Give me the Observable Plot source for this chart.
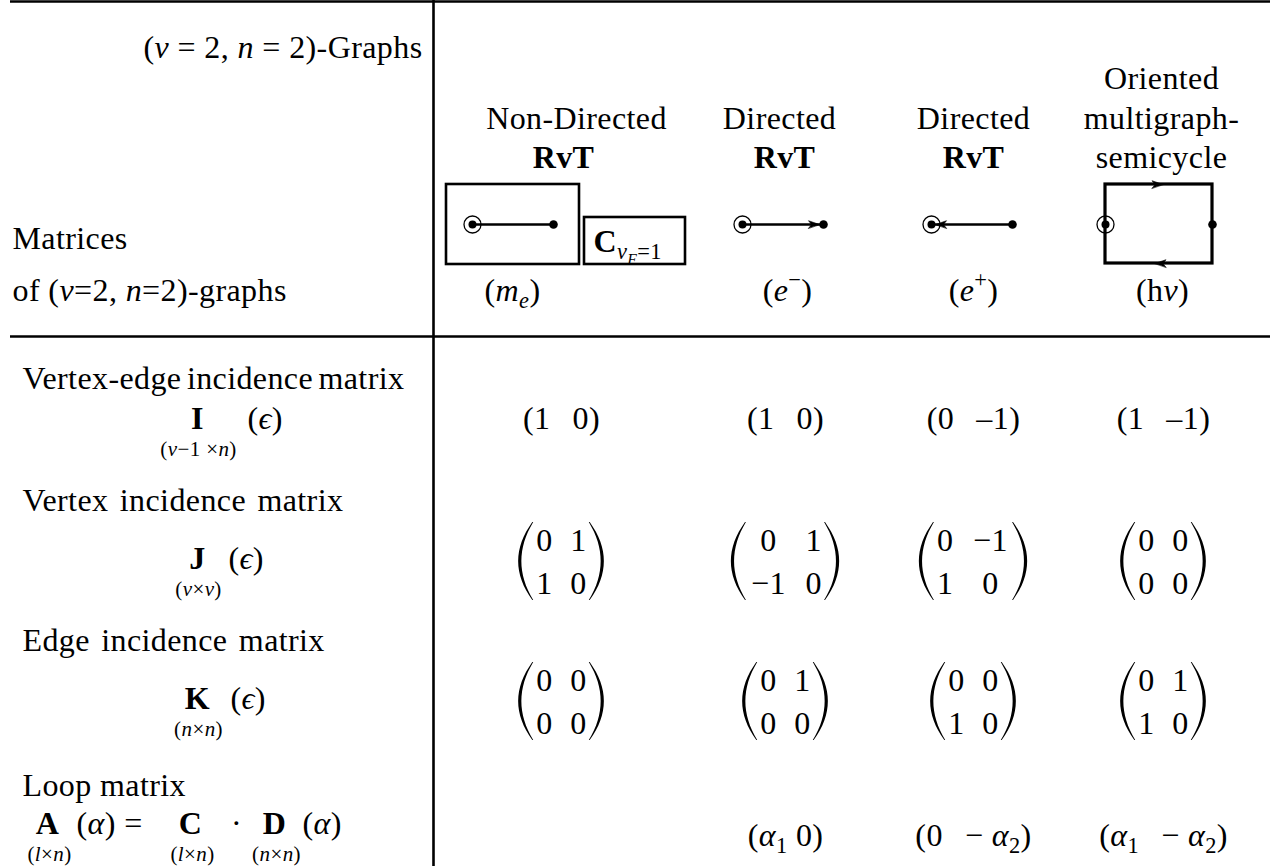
<!DOCTYPE html>
<html><head><meta charset="utf-8">
<script src="https://cdn.jsdelivr.net/npm/d3@7"></script>
<script src="https://cdn.jsdelivr.net/npm/@observablehq/plot@0.6"></script>
<style>html,body{margin:0;padding:0;background:#fff} svg text{font-family:"Liberation Serif","Times New Roman",serif !important; letter-spacing:0.4px}</style>
</head><body><div id="chart"></div>
<script>
// ---------------- content (data) ----------------
const graphsTitle = "({i:v} = 2, {i:n} = 2)-Graphs";
const matricesTitle = ["Matrices", "of ({i:v}=2, {i:n}=2)-graphs"];
const columnHeads = [
  ["Non-Directed", "{b:RvT}"],
  ["Directed", "{b:RvT}"],
  ["Directed", "{b:RvT}"],
  ["Oriented", "multigraph-", "semicycle"]
];
const graphKinds = ["undirected", "outgoing", "incoming", "semicycle"];
const cycleLabel = "{b:C}{_:{i:v}{_:{i:F}}=1}";
const particles = ["({i:m}{_:{i:e}})", "({i:e}{^:−})", "({i:e}{^:+})", "(h{i:ν})"];
const rowTitles = ["Vertex-edge incidence matrix", "Vertex incidence matrix", "Edge incidence matrix", "Loop matrix"];
const matrixSymbols = ["I", "J", "K"];
const matrixDims = ["({i:v}−1 ×{i:n})", "({i:v}×{i:v})", "({i:n}×{i:n})"];
const matrixArg = "({i:ϵ})";
const loopSymbols = ["A", "C", "D"];
const loopDims = ["({i:l}×{i:n})", "({i:l}×{i:n})", "({i:n}×{i:n})"];
const loopPieces = ["({i:α}) =", "·", "({i:α})"];
const incidenceI = [[1, 0], [1, 0], [0, -1], [1, -1]];
const vertexJ = [[[0, 1], [1, 0]], [[0, 1], [-1, 0]], [[0, -1], [1, 0]], [[0, 0], [0, 0]]];
const edgeK = [[[0, 0], [0, 0]], [[0, 1], [0, 0]], [[0, 0], [1, 0]], [[0, 1], [1, 0]]];
const loopA = [null, ["α1", "0"], ["0", "-α2"], ["α1", "-α2"]];

// ---------------- layout ----------------
const W = 1270, H = 866, FS = 32, FS_SUB = 21;
const FONT = "'Liberation Serif', 'Times New Roman', serif";
const LEFT = 10, VLINE = 433, HLINE = 336;
const colX = [561, 785, 973, 1163];
const headX = [576, 779, 973, 1161];
const lastLineShift = [-13, 5, 0, 0];
const HEAD_BASE = [88, 128, 167];
const graphX = [512.5, 782.5, 971.5, 1158.5];
const graphHalf = [40.5, 40.5, 40.5, 53.5];
const GRAPH_Y = 224;
const particleX = [512, 787, 973, 1162];
const PARTICLE_BASE = 300;
const titleBase = [388, 510, 650, 795];
const titleWordSpacing = [-3, 3, 3, 0];
const SYM_X = 197;
const symBase = [428, 568, 708];
const SUB_DROP = 27;
const argX = [247, 228, 230];
const I_BASE = 428;
const J_ROWS = [550, 593], K_ROWS = [690, 733];
const LOOP_BASE = 833, LOOP_SUB = 860, LOOP_VAL_BASE = 845;
const loopSymX = [47, 190, 274];
const loopPieceX = [76, 236, 302];
const loopPieceAnchor = ["start", "middle", "start"];

// ---------------- helpers ----------------
const fmtM = v => v < 0 ? "−" + (-v) : String(v);
const fmtI = v => v < 0 ? "–" + (-v) : String(v);
const fmtLoop = s => s.replace(/^-/, "− ").replace(/α(\d)/, "{i:α}{_:$1}");
const cellW = s => [...s].reduce((a, ch) => a + (ch === "−" ? 22.6 : 14.5), 0);
const GAP = 19.5;

const texts = [];
const T = (x, y, t, size = FS, anchor = "middle", weight = "normal") => texts.push({x, y, t, size, anchor, weight});

T(422, 57, graphsTitle, FS, "end");
T(12, 248, matricesTitle[0], FS, "start");
T(12, 300, matricesTitle[1], FS, "start");
columnHeads.forEach((lines, c) => lines.forEach((t, k) => {
  const last = k === lines.length - 1;
  T(headX[c] + (last ? lastLineShift[c] : 0), HEAD_BASE[HEAD_BASE.length - lines.length + k], t);
}));
T(593, 251, cycleLabel, FS, "start");
particles.forEach((t, c) => T(particleX[c], PARTICLE_BASE, t));
rowTitles.forEach((t, r) => T(22, titleBase[r], t, FS, "start"));
matrixSymbols.forEach((s, r) => {
  T(SYM_X, symBase[r], s, FS, "middle", "bold");
  T(SYM_X + 1, symBase[r] + SUB_DROP, matrixDims[r], FS_SUB);
  T(argX[r], symBase[r], matrixArg, FS, "start");
});
loopSymbols.forEach((s, k) => {
  T(loopSymX[k], LOOP_BASE, s, FS, "middle", "bold");
  T(loopSymX[k] + 2, LOOP_SUB, loopDims[k], FS_SUB);
});
loopPieces.forEach((t, k) => T(loopPieceX[k], LOOP_BASE, t, FS, loopPieceAnchor[k]));

incidenceI.forEach(([a, b], c) => T(colX[c], I_BASE, `(${fmtI(a)}\u2002\u2006${fmtI(b)})`));
loopA.forEach((v, c) => {
  if (!v) return;
  const sep = v[1].startsWith("-") ? "\u2002\u2006" : " ";
  T(colX[c], LOOP_VAL_BASE, `(${fmtLoop(v[0])}${sep}${fmtLoop(v[1])})`);
});

const parenPts = [];
function matrix(m, cx, rows, id) {
  const cols = [0, 1].map(j => m.map(r => fmtM(r[j])));
  const w = cols.map(col => Math.max(...col.map(cellW)));
  const total = w[0] + GAP + w[1];
  const left = cx - total / 2, right = cx + total / 2;
  const xs = [left + w[0] / 2, left + w[0] + GAP + w[1] / 2];
  m.forEach((r, i) => r.forEach((v, j) => T(xs[j], rows[i], fmtM(v))));
  const cy = (rows[0] - 21 + rows[1]) / 2, hh = 39;
  [[left - 4, -1], [right + 4, 1]].forEach(([end, side], s) => {
    for (let k = 0; k <= 8; k++) {
      const t = -1 + k / 4;
      const c = end + side * 13 * (1 - t * t);
      const ht = 0.45 + 1.15 * (1 - t * t);
      parenPts.push({id: id + "-" + s, y: cy + t * hh, x1: c - ht, x2: c + ht});
    }
  });
}
vertexJ.forEach((m, c) => matrix(m, colX[c], J_ROWS, "J" + c));
edgeK.forEach((m, c) => matrix(m, colX[c], K_ROWS, "K" + c));

// graphs
const graphs = graphKinds.map((kind, i) => ({kind, x0: graphX[i] - graphHalf[i], x1: graphX[i] + graphHalf[i], y: GRAPH_Y}));
const edges = graphs.filter(g => g.kind !== "semicycle");
const frames = [
  {x1: graphs[0].x0 - 26, x2: graphs[0].x1 + 26, y1: GRAPH_Y - 40, y2: GRAPH_Y + 40},
  {x1: 584, x2: 685, y1: 217, y2: 264},
  {x1: graphs[3].x0, x2: graphs[3].x1, y1: GRAPH_Y - 40, y2: GRAPH_Y + 39}
];
const arrowPts = [];
function arrowHead(tipX, tipY, dir, id) {
  const L = 11, hw = 3.8;
  arrowPts.push({id, x: tipX, y: tipY}, {id, x: tipX - dir * L, y: tipY - hw},
                {id, x: tipX - dir * L * 0.72, y: tipY}, {id, x: tipX - dir * L, y: tipY + hw});
}
graphs.forEach((g, i) => {
  if (g.kind === "outgoing") arrowHead(g.x1 - 4, g.y, 1, "a" + i);
  if (g.kind === "incoming") arrowHead(g.x0 + 4, g.y, -1, "a" + i);
  if (g.kind === "semicycle") {
    arrowHead(graphX[i] + 4, frames[2].y1, 1, "t" + i);
    arrowHead(graphX[i] - 4, frames[2].y2, -1, "b" + i);
  }
});
const tableRules = {h: [{y: 1, x1: LEFT, x2: W}, {y: HLINE, x1: LEFT, x2: W}], v: [{x: VLINE, y1: 0, y2: H}]};

const textMarks = d3.groups(texts, d => d.size + "|" + d.anchor + "|" + d.weight).map(([, rows]) =>
  Plot.text(rows, {x: "x", y: "y", text: "t", lineAnchor: "bottom", fontSize: rows[0].size, fontFamily: FONT,
    textAnchor: rows[0].anchor, fontWeight: rows[0].weight, fill: "black"}));

const svg = Plot.plot({
  width: W, height: H, margin: 0,
  x: {domain: [0, W], range: [0, W], axis: null},
  y: {domain: [0, H], range: [0, H], axis: null},
  style: {fontFamily: FONT, background: "white", color: "black"},
  marks: [
    Plot.ruleY(tableRules.h, {y: "y", x1: "x1", x2: "x2", stroke: "black", strokeWidth: 2.5}),
    Plot.ruleX(tableRules.v, {x: "x", y1: "y1", y2: "y2", stroke: "black", strokeWidth: 2.6}),
    Plot.rect(frames.slice(0, 2), {x1: "x1", x2: "x2", y1: "y1", y2: "y2", fill: "none", stroke: "black", strokeWidth: 2.6}),
    Plot.rect(frames.slice(2), {x1: "x1", x2: "x2", y1: "y1", y2: "y2", fill: "none", stroke: "black", strokeWidth: 3.2}),
    Plot.link(edges, {x1: "x0", x2: "x1", y1: "y", y2: "y", stroke: "black", strokeWidth: 2.4}),
    Plot.line(arrowPts, {x: "x", y: "y", z: "id", fill: "black", stroke: "black", strokeWidth: 0.6, curve: "linear-closed"}),
    Plot.dot(graphs, {x: "x0", y: "y", r: 8.5, stroke: "black", strokeWidth: 1.3, fill: "none"}),
    Plot.dot(graphs, {x: "x0", y: "y", r: 4, fill: "black", stroke: "none"}),
    Plot.dot(graphs, {x: "x1", y: "y", r: 4.3, fill: "black", stroke: "none"}),
    Plot.areaX(parenPts, {y: "y", x1: "x1", x2: "x2", z: "id", fill: "black", curve: "natural"}),
    ...textMarks
  ]
});
document.getElementById("chart").appendChild(svg);

// rich text: {i:..} italic, {b:..} bold, {_:..} subscript, {^:..} superscript
function parseMarkup(s) {
  let i = 0;
  function seq(inner) {
    const out = []; let buf = "";
    while (i < s.length) {
      const ch = s[i];
      if (ch === "{") {
        if (buf) { out.push({text: buf}); buf = ""; }
        const colon = s.indexOf(":", i);
        const type = s.slice(i + 1, colon);
        i = colon + 1;
        out.push({type, children: seq(true)});
      } else if (ch === "}" && inner) { i++; break; }
      else { buf += ch; i++; }
    }
    if (buf) out.push({text: buf});
    return out;
  }
  return seq(false);
}
function flatten(nodes, st, acc) {
  for (const n of nodes) {
    if (n.text !== undefined) { acc.push({...st, text: n.text}); continue; }
    const s2 = {...st};
    if (n.type === "i") s2.italic = true;
    if (n.type === "b") s2.bold = true;
    if (n.type === "_") { s2.shift = st.shift + 0.24 * st.size; s2.size = st.size * 0.7; }
    if (n.type === "^") { s2.shift = st.shift - 0.42 * st.size; s2.size = st.size * 0.7; }
    flatten(n.children, s2, acc);
  }
}
d3.select(svg).selectAll("text").each(function () {
  this.setAttribute("font-family", FONT);
  const s = this.textContent;
  const ti = rowTitles.indexOf(s);
  if (ti >= 0) this.setAttribute("word-spacing", titleWordSpacing[ti]);
  if (!/[{}]/.test(s)) return;
  const base = parseFloat(getComputedStyle(this).fontSize);
  const segs = [];
  flatten(parseMarkup(s), {italic: false, bold: false, size: base, shift: 0}, segs);
  while (this.firstChild) this.removeChild(this.firstChild);
  let cur = 0;
  for (const g of segs) {
    const ts = document.createElementNS("http://www.w3.org/2000/svg", "tspan");
    ts.textContent = g.text;
    if (g.italic) ts.setAttribute("font-style", "italic");
    if (g.bold) ts.setAttribute("font-weight", "bold");
    if (Math.abs(g.size - base) > 0.01) ts.setAttribute("font-size", g.size.toFixed(2));
    const dy = g.shift - cur;
    if (Math.abs(dy) > 1e-6) ts.setAttribute("dy", dy.toFixed(2));
    cur = g.shift;
    this.appendChild(ts);
  }
});
</script>
</body></html>
